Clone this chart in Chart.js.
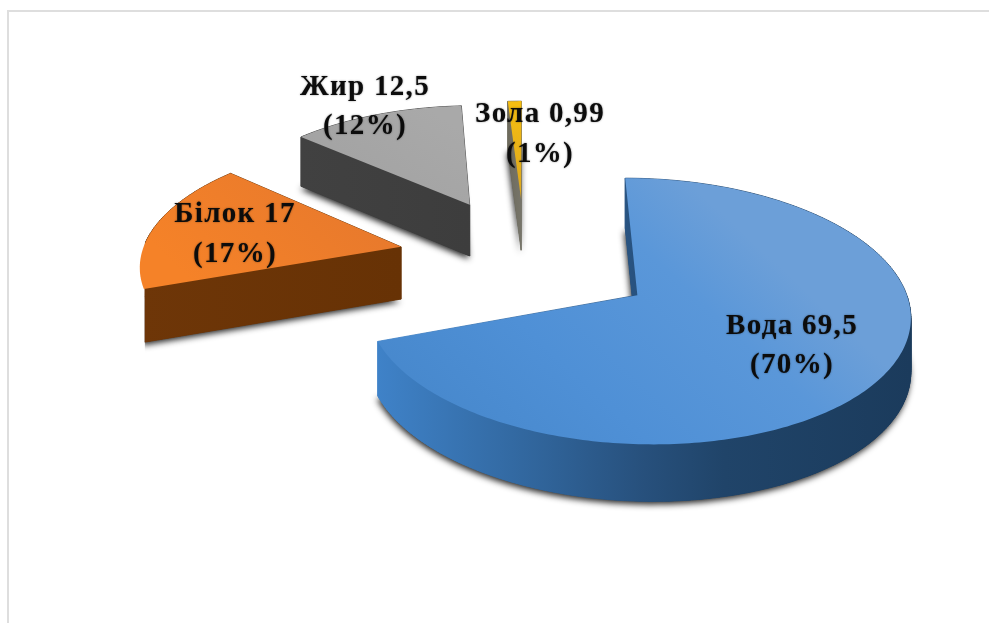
<!DOCTYPE html>
<html><head><meta charset="utf-8">
<style>
html,body{margin:0;padding:0;background:#fff;width:989px;height:623px;overflow:hidden}
#wrap{position:absolute;left:0;top:0;width:989px;height:623px}
#frame{position:absolute;left:7px;top:10px;width:982px;height:613px;border-left:2px solid #dedede;border-top:2px solid #dedede;box-sizing:border-box}
canvas{position:absolute;left:0;top:0;filter:blur(0.6px)}
</style>
<script src="https://cdn.jsdelivr.net/npm/chart.js@4"></script>
</head><body>
<div id="wrap"><div id="frame"></div><canvas id="c" width="989" height="623"></canvas></div>
<script>
const categories = ['Вода', 'Білок', 'Жир', 'Зола'];
const values = [69.5, 17, 12.5, 0.99];
const percents = [70, 17, 12, 1];

// style tables
const explode = [130, 125, 130, 130];
const topColors = [
  [[0,'#6c9fd8'],[0.22,'#5a97d9'],[0.6,'#4f90d6'],[1,'#4687cb']],
  [[0,'#e97a2c'],[1,'#f58228']],
  [[0,'#a9a9a9'],[1,'#a2a2a2']],
  [[0,'#f5bd12'],[1,'#d9a520']]
];
const wallColors = [
  [[0,'#3f82c8'],[0.25,'#336aa3'],[0.5,'#27507c'],[0.65,'#204469'],[1,'#1b3b5c']],
  [[0,'#6e3608'],[1,'#673205']],
  [[0,'#414141'],[1,'#3d3d3d']],
  [[0,'#6d6a5c'],[1,'#77756a']]
];
const labelPos = [[792,327,366],[235,215,255],[365,88,127],[540,115,155]];
const K = 0.47, DEPTH = 52, W0 = 0.98, WA = 0.00045;

function project(arc, X, Y, z) {
  const w = W0 - WA * Y;
  return [arc.x + X / w, arc.y + K * Y / w + z / Math.sqrt(w)];
}
function grad(ctx, x0, y0, x1, y1, stops) {
  const g = ctx.createLinearGradient(x0, y0, x1, y1);
  stops.forEach(s => g.addColorStop(s[0], s[1]));
  return g;
}
function poly(ctx, pts) {
  ctx.beginPath();
  pts.forEach((p, i) => i ? ctx.lineTo(p[0], p[1]) : ctx.moveTo(p[0], p[1]));
  ctx.closePath();
}
const pie3d = {
  id: 'pie3d',
  beforeDatasetDraw(chart) {
    const ctx = chart.ctx, meta = chart.getDatasetMeta(0);
    [3, 2, 1, 0].forEach(i => {
      const arc = meta.data[i];
      const d = explode[i], mid = (arc.startAngle + arc.endAngle) / 2;
      const ox = Math.cos(mid) * d, oy = Math.sin(mid) * d, R = arc.outerRadius;
      const model = [[ox, oy]];
      const n = Math.max(6, Math.ceil((arc.endAngle - arc.startAngle) * 60));
      for (let s = 0; s <= n; s++) {
        const t = arc.startAngle + (arc.endAngle - arc.startAngle) * s / n;
        model.push([ox + R * Math.cos(t), oy + R * Math.sin(t)]);
      }
      const top = model.map(m => project(arc, m[0], m[1], 0));
      const bot = model.map(m => project(arc, m[0], m[1], DEPTH));
      const xs = top.map(p => p[0]), ys = top.map(p => p[1]);
      const minX = Math.min(...xs), maxX = Math.max(...xs), minY = Math.min(...ys), maxY = Math.max(...ys);
      ctx.save();
      ctx.save();
      if (i === 1) { // the flat cut face hides the rim of this slice
        ctx.beginPath(); ctx.rect(top[1][0] + 1, 0, 989, 623); ctx.clip();
      }
      // contact shadow under the extruded body
      ctx.shadowColor = 'rgba(0,0,0,0.85)'; ctx.shadowBlur = 6; ctx.shadowOffsetY = 3; ctx.shadowOffsetX = -1;
      ctx.fillStyle = '#333';
      poly(ctx, bot); ctx.fill();
      ctx.shadowColor = 'transparent'; ctx.shadowBlur = 0; ctx.shadowOffsetY = 0; ctx.shadowOffsetX = 0;
      // walls
      const wall = grad(ctx, minX, 0, maxX, 0, wallColors[i]);
      ctx.fillStyle = wall; ctx.strokeStyle = wall; ctx.lineWidth = 0.8;
      poly(ctx, bot); ctx.fill();
      const order = model.map((m, j) => j).sort((a, b) => model[a][1] - model[b][1]);
      order.forEach(j => {
        const k = (j + 1) % model.length;
        poly(ctx, [top[j], top[k], bot[k], bot[j]]);
        ctx.fill(); ctx.stroke();
      });
      ctx.restore();
      // top face
      ctx.fillStyle = grad(ctx, (minX + maxX) / 2 + 40, minY, minX + 60, maxY, topColors[i]);
      poly(ctx, top); ctx.fill();
      ctx.restore();
    });
    return false;
  },
  afterDatasetsDraw(chart) {
    const ctx = chart.ctx;
    ctx.save();
    ctx.font = 'bold 29px "Liberation Serif"';
    ctx.textAlign = 'center'; ctx.textBaseline = 'middle';
    ctx.fillStyle = '#0c0c0c';
    ctx.shadowColor = 'rgba(0,0,0,0.45)'; ctx.shadowBlur = 2;
    if ('letterSpacing' in ctx) ctx.letterSpacing = '1.3px';
    categories.forEach((c, i) => {
      const p = labelPos[i];
      ctx.fillText(c + ' ' + String(values[i]).replace('.', ','), p[0], p[1]);
      ctx.fillText('(' + percents[i] + '%)', p[0], p[2]);
    });
    ctx.restore();
  }
};
new Chart(document.getElementById('c'), {
  type: 'pie',
  data: { labels: categories, datasets: [{ data: values, backgroundColor: ['#5b9bd5','#ed7d31','#a5a5a5','#ffc000'], borderWidth: 0 }] },
  options: {
    responsive: false, animation: false, radius: 255,
    layout: { padding: { left: 61, bottom: 107 } },
    plugins: { legend: { display: false }, tooltip: { enabled: false } }
  },
  plugins: [pie3d]
});
</script>
</body></html>
